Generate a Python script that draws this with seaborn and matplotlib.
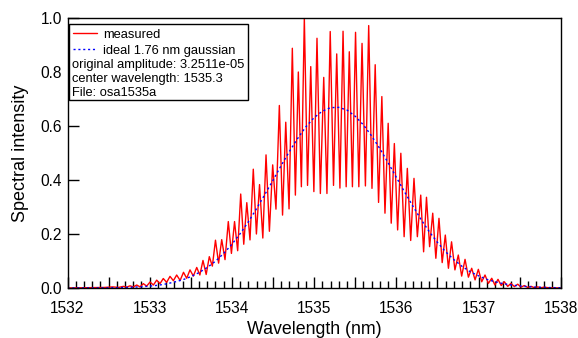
import matplotlib
matplotlib.use("Agg")
import matplotlib.pyplot as plt
from matplotlib.lines import Line2D
from matplotlib.patches import Rectangle
from matplotlib.ticker import MultipleLocator, FuncFormatter
import seaborn as sns
import pandas as pd

# ----------------------------------------------------------------------
# Data: fringe maxima and minima of the measured
# spectrum, plus the ideal gaussian sampled every 0.1 nm
# ----------------------------------------------------------------------
peak_wl = [
    1532.55, 1532.68, 1532.76, 1532.842, 1532.922, 1533.004, 1533.085, 1533.165,
    1533.247, 1533.328, 1533.411, 1533.490, 1533.572, 1533.648, 1533.725, 1533.800,
    1533.876, 1533.956, 1534.032, 1534.107, 1534.181, 1534.260, 1534.336, 1534.415,
    1534.496, 1534.577, 1534.655, 1534.735, 1534.808, 1534.881, 1534.959, 1535.035,
    1535.117, 1535.196, 1535.275, 1535.352, 1535.428, 1535.504, 1535.583, 1535.664,
    1535.743, 1535.824, 1535.901, 1535.976, 1536.055, 1536.134, 1536.215, 1536.297,
    1536.367, 1536.443, 1536.519, 1536.596, 1536.672, 1536.754, 1536.836, 1536.917,
    1536.998, 1537.079, 1537.161, 1537.237, 1537.314, 1537.395, 1537.477, 1537.557,
    1537.639, 1537.720, 1537.797,
]
peak_val = [
    0.004, 0.006, 0.008, 0.011, 0.016, 0.022, 0.029, 0.035,
    0.043, 0.048, 0.058, 0.067, 0.076, 0.102, 0.116, 0.177,
    0.179, 0.246, 0.246, 0.348, 0.316, 0.440, 0.383, 0.493,
    0.456, 0.676, 0.614, 0.888, 0.800, 1.000, 0.820, 0.925,
    0.780, 0.950, 0.867, 0.951, 0.875, 0.947, 0.906, 0.972,
    0.827, 0.709, 0.610, 0.535, 0.499, 0.443, 0.406, 0.344,
    0.336, 0.277, 0.258, 0.196, 0.171, 0.122, 0.106, 0.073,
    0.069, 0.048, 0.036, 0.032, 0.023, 0.017, 0.014, 0.009,
    0.006, 0.004, 0.003,
]
valley_wl = [
    1532.0, 1532.25, 1532.45, 1532.62, 1532.72, 1532.80, 1532.882, 1532.963,
    1533.045, 1533.125, 1533.206, 1533.288, 1533.370, 1533.450, 1533.531, 1533.610,
    1533.687, 1533.762, 1533.838, 1533.916, 1533.994, 1534.070, 1534.144, 1534.220,
    1534.298, 1534.376, 1534.456, 1534.536, 1534.616, 1534.695, 1534.772, 1534.845,
    1534.920, 1534.997, 1535.076, 1535.156, 1535.236, 1535.314, 1535.390, 1535.466,
    1535.544, 1535.624, 1535.704, 1535.784, 1535.862, 1535.938, 1536.016, 1536.095,
    1536.175, 1536.256, 1536.332, 1536.405, 1536.481, 1536.558, 1536.634, 1536.713,
    1536.795, 1536.877, 1536.958, 1537.039, 1537.120, 1537.199, 1537.276, 1537.355,
    1537.436, 1537.517, 1537.598, 1537.680, 1537.760, 1537.85, 1538.0,
]
valley_val = [
    0.000, 0.001, 0.002, 0.002, 0.003, 0.004, 0.004, 0.007,
    0.011, 0.016, 0.021, 0.027, 0.028, 0.036, 0.044, 0.048,
    0.050, 0.081, 0.092, 0.105, 0.128, 0.138, 0.162, 0.178,
    0.200, 0.185, 0.210, 0.292, 0.270, 0.293, 0.344, 0.375,
    0.380, 0.357, 0.350, 0.350, 0.380, 0.370, 0.375, 0.375,
    0.375, 0.378, 0.369, 0.317, 0.277, 0.240, 0.215, 0.190,
    0.176, 0.190, 0.134, 0.153, 0.110, 0.094, 0.073, 0.067,
    0.044, 0.040, 0.030, 0.023, 0.017, 0.011, 0.009, 0.006,
    0.005, 0.003, 0.002, 0.001, 0.001, 0.001, 0.000,
]

ideal_wl = [
    1532.0, 1532.1, 1532.2, 1532.3, 1532.4, 1532.5, 1532.6, 1532.7, 1532.8, 1532.9,
    1533.0, 1533.1, 1533.2, 1533.3, 1533.4, 1533.5, 1533.6, 1533.7, 1533.8, 1533.9,
    1534.0, 1534.1, 1534.2, 1534.3, 1534.4, 1534.5, 1534.6, 1534.7, 1534.8, 1534.9,
    1535.0, 1535.1, 1535.2, 1535.3, 1535.4, 1535.5, 1535.6, 1535.7, 1535.8, 1535.9,
    1536.0, 1536.1, 1536.2, 1536.3, 1536.4, 1536.5, 1536.6, 1536.7, 1536.8, 1536.9,
    1537.0, 1537.1, 1537.2, 1537.3, 1537.4, 1537.5, 1537.6, 1537.7, 1537.8, 1537.9,
    1538.0,
]
ideal_val = [
    0.0, 0.0001, 0.0001, 0.0002, 0.0004, 0.0007, 0.0012, 0.0019, 0.003, 0.0045,
    0.0069, 0.010, 0.015, 0.022, 0.030, 0.042, 0.057, 0.076, 0.099, 0.128,
    0.162, 0.201, 0.245, 0.294, 0.346, 0.399, 0.454, 0.506, 0.554, 0.597,
    0.631, 0.655, 0.668, 0.669, 0.659, 0.636, 0.604, 0.563, 0.516, 0.464,
    0.410, 0.356, 0.304, 0.254, 0.209, 0.169, 0.134, 0.105, 0.080, 0.060,
    0.045, 0.032, 0.023, 0.016, 0.011, 0.0075, 0.005, 0.0032, 0.002, 0.0013,
    0.0008,
]

series_labels = ["measured", "ideal 1.76 nm gaussian"]
info_lines = [
    "original amplitude: 3.2511e-05",
    "center wavelength: 1535.3",
    "File: osa1535a",
]

# ----------------------------------------------------------------------
# Style
# ----------------------------------------------------------------------
sns.set_theme(style="ticks")
plt.rcParams["font.family"] = ["Liberation Sans", "DejaVu Sans"]
plt.rcParams.update({
    "axes.edgecolor": "black",
    "axes.linewidth": 1.0,
    "text.color": "black",
    "axes.labelcolor": "black",
    "xtick.color": "black",
    "ytick.color": "black",
})

measured = pd.concat([
    pd.DataFrame({"wl": peak_wl, "val": peak_val}),
    pd.DataFrame({"wl": valley_wl, "val": valley_val}),
]).sort_values("wl").reset_index(drop=True)
ideal = pd.DataFrame({"wl": ideal_wl, "val": ideal_val})

fig = plt.figure(figsize=(5.78, 3.38), dpi=100)
ax = fig.add_axes([0.1168, 0.148, 0.8533, 0.7987])

sns.lineplot(data=measured, x="wl", y="val", color="#ff0000", lw=1.0,
             estimator=None, sort=False, ax=ax)
sns.lineplot(data=ideal, x="wl", y="val", color="#0000ff", lw=1.0,
             linestyle=(0, (1.5, 2.0)), estimator=None, sort=False, ax=ax)

ax.set_xlim(1532, 1538)
ax.set_ylim(0, 1.0)

# ticks: inward, long ones every 0.5 nm, labels on whole nm only
ax.xaxis.set_major_locator(MultipleLocator(0.5))
ax.xaxis.set_minor_locator(MultipleLocator(0.1))
ax.xaxis.set_major_formatter(FuncFormatter(
    lambda v, p: f"{v:.0f}" if abs(v - round(v)) < 1e-6 else ""))
ax.yaxis.set_major_locator(MultipleLocator(0.2))
ax.yaxis.set_major_formatter(FuncFormatter(lambda v, p: f"{v:.1f}"))
ax.tick_params(which="major", direction="in", length=8, width=1.0, labelsize=11.2)
ax.tick_params(which="minor", direction="in", length=5, width=1.0)
ax.tick_params(axis="x", which="major", pad=9.5)
ax.tick_params(axis="y", which="major", pad=4)

ax.set_xlabel("Wavelength (nm)", fontsize=12.8, labelpad=3.5)
ax.set_ylabel("Spectral intensity", fontsize=13, labelpad=8)

for side in ["top", "right", "left", "bottom"]:
    ax.spines[side].set_visible(True)
    ax.spines[side].set_color("black")

# legend box with extra info lines
ax.add_patch(Rectangle((0.0036, 0.696), 0.3625, 0.281, transform=ax.transAxes,
                       facecolor="white", edgecolor="black", lw=1.0, zorder=5))
handles = [
    Line2D([], [], color="#ff0000", lw=1.0),
    Line2D([], [], color="#0000ff", lw=1.0, linestyle=(0, (1.5, 2.0))),
]
leg = ax.legend(handles, series_labels, loc="upper left", bbox_to_anchor=(0.0112, 0.960),
                frameon=False, fontsize=9.3, handlelength=1.86, handletextpad=0.47,
                borderpad=0, borderaxespad=0, labelspacing=0.3)
leg.set_zorder(6)
for i, line in enumerate(info_lines):
    ax.text(0.0085, 0.8263 - i * 0.0513, line, transform=ax.transAxes,
            fontsize=9.3, va="center", ha="left", zorder=6)

fig.savefig("out.png", dpi=100)
plt.close(fig)
